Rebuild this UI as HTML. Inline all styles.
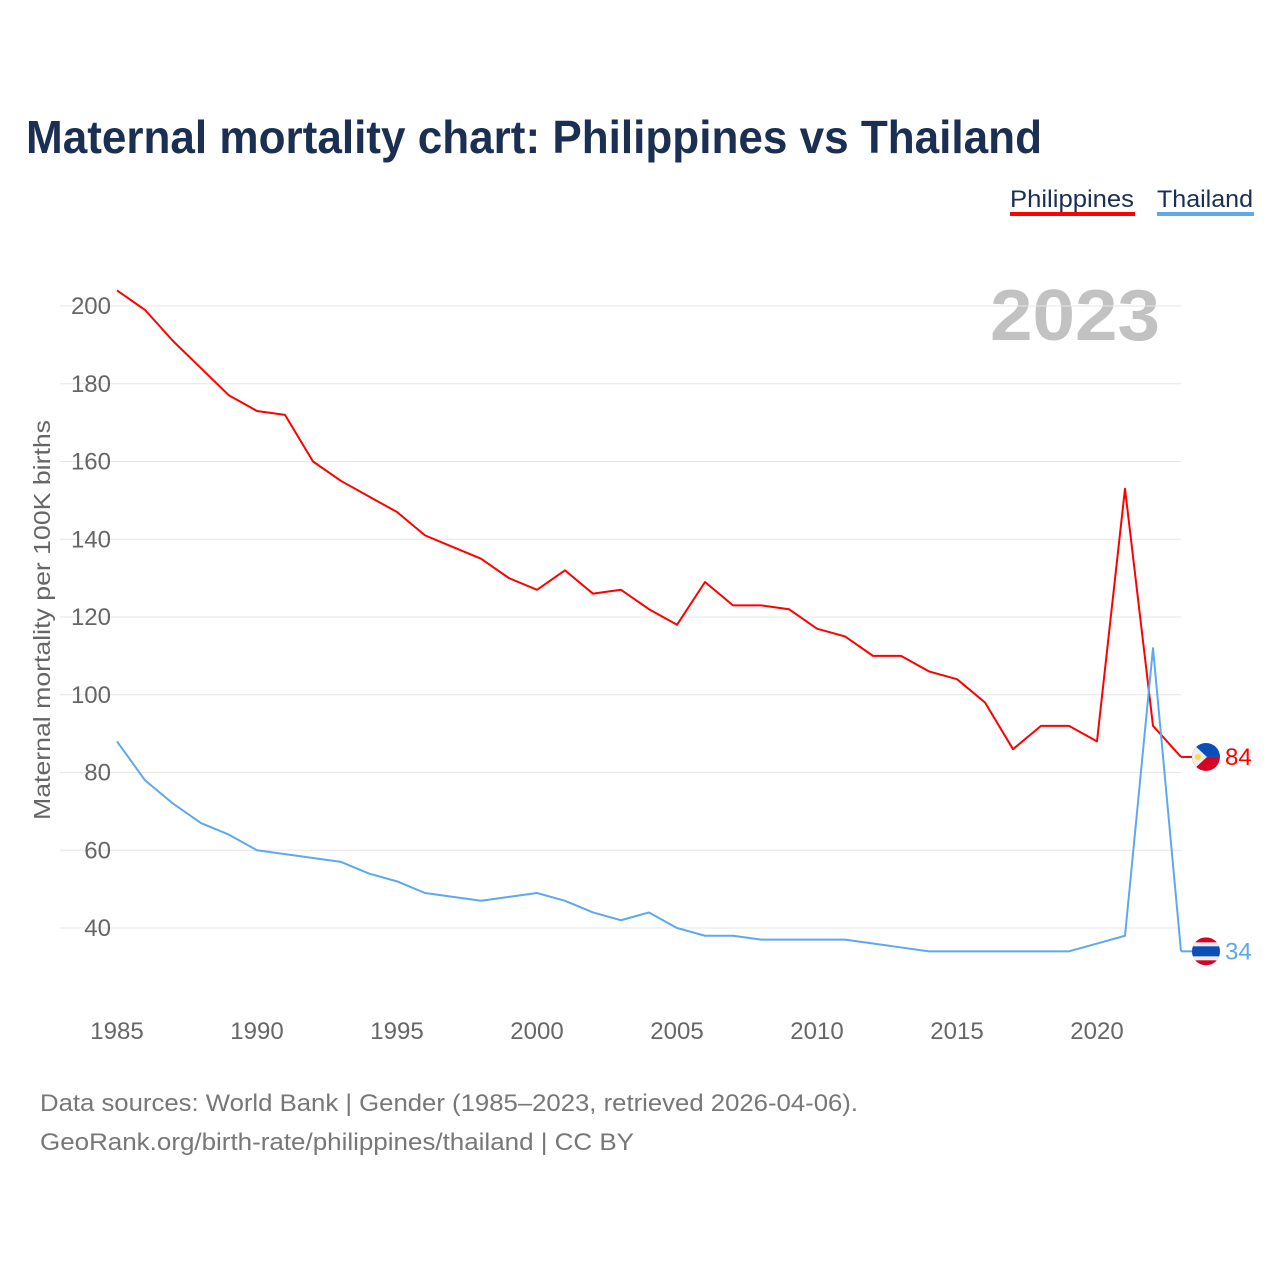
<!DOCTYPE html>
<html><head><meta charset="utf-8"><style>
html,body{margin:0;padding:0;background:#fff;}
body{width:1280px;height:1280px;position:relative;font-family:"Liberation Sans",sans-serif;overflow:hidden;}
</style></head><body>
<svg id="chart" width="1280" height="1280" xmlns="http://www.w3.org/2000/svg" style="position:absolute;left:0;top:0">
<text x="26" y="153" font-size="46" font-weight="bold" fill="#1b2f52" textLength="1016" lengthAdjust="spacingAndGlyphs">Maternal mortality chart: Philippines vs Thailand</text>
<g>
<text x="1010" y="207" font-size="24" fill="#1b2f52" textLength="124" lengthAdjust="spacingAndGlyphs">Philippines</text>
<rect x="1010" y="212" width="125" height="4" fill="#ff0000"/>
<text x="1157" y="207" font-size="24" fill="#1b2f52" textLength="96" lengthAdjust="spacingAndGlyphs">Thailand</text>
<rect x="1157" y="212" width="97" height="4" fill="#5ea8ee"/>
</g>
<text x="1160" y="340" text-anchor="end" font-size="72" font-weight="bold" fill="#c2c2c2" textLength="170" lengthAdjust="spacingAndGlyphs">2023</text>
<text transform="translate(50,620) rotate(-90)" text-anchor="middle" font-size="23" fill="#666" textLength="400" lengthAdjust="spacingAndGlyphs">Maternal mortality per 100K births</text>
<g id="grid"></g><g id="yticks"></g><g id="xticks"></g><g id="series"></g><g id="ends"></g>
<text x="40" y="1111" font-size="24" fill="#777" textLength="818" lengthAdjust="spacingAndGlyphs">Data sources: World Bank | Gender (1985–2023, retrieved 2026-04-06).</text>
<text x="40" y="1150" font-size="24" fill="#777" textLength="594" lengthAdjust="spacingAndGlyphs">GeoRank.org/birth-rate/philippines/thailand | CC BY</text>
</svg>
<script>
const years=[1985,1986,1987,1988,1989,1990,1991,1992,1993,1994,1995,1996,1997,1998,1999,2000,2001,2002,2003,2004,2005,2006,2007,2008,2009,2010,2011,2012,2013,2014,2015,2016,2017,2018,2019,2020,2021,2022,2023];
const philippines=[204,199,191,184,177,173,172,160,155,151,147,141,138,135,130,127,132,126,127,122,118,129,123,123,122,117,115,110,110,106,104,98,86,92,92,88,153,92,84];
const thailand=[88,78,72,67,64,60,59,58,57,54,52,49,48,47,48,49,47,44,42,44,40,38,38,37,37,37,37,36,35,34,34,34,34,34,34,36,38,112,34];
const yTicks=[40,60,80,100,120,140,160,180,200];
const xTicks=[1985,1990,1995,2000,2005,2010,2015,2020];
const NS="http://www.w3.org/2000/svg";
const X=y=>117+(y-1985)*28;
const Y=v=>306+(200-v)*3.8875;
function mk(t,a,p){const e=document.createElementNS(NS,t);for(const k in a)e.setAttribute(k,a[k]);p.appendChild(e);return e;}
const g=document.getElementById('grid'),yt=document.getElementById('yticks'),xt=document.getElementById('xticks'),s=document.getElementById('series'),en=document.getElementById('ends');
yTicks.forEach(v=>{
 const l=mk('line',{x1:60,x2:1181,y1:Y(v),y2:Y(v),stroke:'#e6e6e6','stroke-width':1},g);
 
 
 const t=mk('text',{x:111,y:Y(v)+8,'text-anchor':'end','font-size':24,fill:'#666'},yt);
 t.textContent=v;
 
 
});
xTicks.forEach(v=>{
 const t=mk('text',{x:X(v),y:1039,'text-anchor':'middle','font-size':24,fill:'#666'},xt);
 t.textContent=v;
 
 
});
function line(arr,color,name){
 const d=arr.map((v,i)=>(i?'L':'M')+X(years[i])+','+Y(v)).join(' ');
 const p=mk('path',{d:d,fill:'none',stroke:color,'stroke-width':2,'stroke-linejoin':'round'},s);
 
 
 const last=arr[arr.length-1],ly=Y(last),lx=X(years[years.length-1]);
 const c=mk('line',{x1:lx,x2:lx+12,y1:ly,y2:ly,stroke:color,'stroke-width':2},en);
 
 
 const t=mk('text',{x:1225,y:ly+8,'font-size':24,fill:color},en);
 t.textContent=last;
 
 
 return ly;
}
const py=line(philippines,'#ff0000','philippines');
const ty=line(thailand,'#5ea8ee','thailand');
const fp=mk('g',{transform:'translate(1206,'+py+')'},en);


fp.innerHTML='<clipPath id="cp1"><circle r="14"/></clipPath><g clip-path="url(#cp1)"><rect x="-14" y="-14" width="28" height="14" fill="#0a4fb8"/><rect x="-14" y="0" width="28" height="14" fill="#d80027"/><polygon points="-14,-14 1,0 -14,14" fill="#eeeeee"/><circle cx="-8" cy="0" r="3" fill="#ffda44"/></g>';
const ft=mk('g',{transform:'translate(1206,'+ty+')'},en);


ft.innerHTML='<clipPath id="cp2"><circle r="14"/></clipPath><g clip-path="url(#cp2)"><rect x="-14" y="-14" width="28" height="28" fill="#d80027"/><rect x="-14" y="-9" width="28" height="18" fill="#eeeeee"/><rect x="-14" y="-5" width="28" height="10" fill="#0a4fb8"/></g>';
</script>
</body></html>
